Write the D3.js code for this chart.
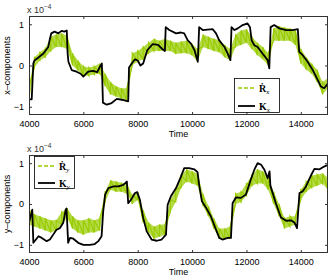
<!DOCTYPE html>
<html>
<head>
<meta charset="utf-8">
<script src="https://cdn.jsdelivr.net/npm/d3@7"></script>
<style>
  body { margin: 0; background: #fff; }
  svg text { font-family: "Liberation Sans", Arial, sans-serif; }
</style>
</head>
<body>
<svg id="chart" width="332" height="278"></svg>
<script>
// green band (estimated envelope of the noisy R-dot trace), every 200 time units
var gT = d3.range(4000, 15001, 200);
var rxLo = [-0.88,-0.05,0.12,0.2,0.35,0.45,0.45,0.4,0.0,-0.12,-0.25,-0.25,-0.22,-0.2,-0.5,-0.7,-0.75,-0.8,-0.85,0.0,0.1,0.15,0.3,0.35,0.35,0.35,0.35,0.28,0.3,0.3,0.25,0.1,0.45,0.4,0.35,0.32,0.2,0.12,0.45,0.5,0.55,0.4,0.25,0.15,0.0,0.6,0.6,0.6,0.6,0.5,0.05,-0.1,-0.2,-0.4,-0.7,-0.55];
var rxHi = [-0.5,0.2,0.32,0.42,0.7,0.75,0.78,0.72,0.3,0.12,-0.02,-0.05,-0.02,0.05,-0.2,-0.4,-0.5,-0.55,-0.55,0.3,0.35,0.45,0.55,0.65,0.6,0.65,0.6,0.55,0.58,0.6,0.52,0.4,0.75,0.7,0.65,0.62,0.5,0.4,0.75,0.85,0.88,0.7,0.55,0.45,0.3,0.9,0.95,0.92,0.9,0.85,0.4,0.2,0.05,-0.1,-0.4,-0.3];
var ryLo = [-0.5,-0.55,-0.6,-0.65,-0.7,-0.65,-0.5,-0.35,-0.6,-0.7,-0.75,-0.7,-0.7,-0.65,0.05,0.35,0.3,0.3,0.25,0.0,0.1,-0.45,-0.7,-0.85,-0.8,-0.75,-0.2,0.05,0.4,0.55,0.5,0.45,-0.05,-0.3,-0.6,-0.85,-0.85,-0.85,0.0,0.05,0.2,0.45,0.5,0.5,0.35,0.0,-0.3,-0.6,-0.55,-0.5,0.1,0.3,0.4,0.45,0.5,0.35];
var ryHi = [-0.12,-0.25,-0.3,-0.35,-0.4,-0.4,-0.2,-0.1,-0.3,-0.4,-0.4,-0.35,-0.4,-0.35,0.3,0.58,0.55,0.52,0.5,0.22,0.3,-0.15,-0.45,-0.55,-0.5,-0.5,0.1,0.35,0.7,0.85,0.8,0.75,0.25,-0.05,-0.35,-0.6,-0.6,-0.55,0.25,0.3,0.5,0.7,0.85,0.8,0.65,0.3,0.0,-0.35,-0.3,-0.3,0.35,0.55,0.7,0.72,0.75,0.65];

// black K traces
var kxT = [4000,4100,4160,4200,4300,4530,4710,4770,4820,4940,5080,5200,5300,5390,5420,5450,5570,5750,5900,6000,6100,6180,6360,6510,6610,6680,6720,6860,7040,7230,7410,7650,7680,7780,7900,8000,8100,8200,8350,8550,8750,8900,9000,9030,9160,9410,9590,9710,9840,9960,10090,10210,10260,10390,10570,10760,10880,11000,11190,11310,11410,11450,11560,11680,11860,12040,12130,12190,12290,12410,12590,12780,12840,12890,13020,13210,13460,13700,13890,13940,14070,14250,14440,14620,14740,14860,15000];
var kxV = [-0.82,-0.82,0.05,0.12,0.17,0.29,0.45,0.65,0.78,0.82,0.78,0.84,0.82,0.85,0.3,0.09,-0.11,-0.15,-0.2,-0.27,-0.2,-0.15,-0.13,-0.16,-0.03,0.05,-0.9,-0.95,-0.91,-0.81,-0.83,-0.87,-0.05,0.05,0.15,0.12,0.0,0.05,0.37,0.52,0.5,0.4,0.35,0.93,0.86,0.78,0.8,0.78,0.61,0.53,0.37,0.09,0.93,0.86,0.87,0.88,0.78,0.61,0.45,0.29,0.13,0.93,0.86,0.9,0.98,1.02,0.93,0.61,0.49,0.45,0.29,0.13,-0.07,0.93,0.98,0.9,0.86,0.86,0.88,0.33,0.25,0.09,-0.11,-0.35,-0.51,-0.55,-0.43];
var kyT = [4000,4120,4160,4350,4470,4650,4770,4890,5010,5140,5260,5350,5380,5440,5510,5630,5810,6000,6240,6420,6550,6670,6730,6800,6920,7110,7290,7470,7600,7650,7750,7900,7980,8080,8200,8330,8510,8700,8880,9040,9100,9220,9410,9590,9710,9890,10080,10200,10260,10360,10510,10690,10880,11000,11120,11310,11430,11490,11610,11800,11980,12160,12290,12410,12540,12660,12780,12850,12880,13090,13270,13460,13640,13770,13860,13950,14070,14190,14380,14500,14690,14810,14930,15000];
var kyV = [-0.46,-0.14,-0.95,-0.79,-0.83,-0.91,-0.87,-0.75,-0.63,-0.59,-0.46,-0.14,-0.11,-0.95,-0.83,-0.85,-0.95,-1.0,-1.0,-0.98,-0.91,-0.79,-0.18,0.23,0.39,0.43,0.43,0.47,0.55,0.02,0.1,0.27,0.29,0.1,-0.34,-0.67,-0.87,-0.9,-0.87,-0.75,-0.02,0.19,0.39,0.67,0.88,0.88,0.85,0.78,0.47,0.07,-0.09,-0.3,-0.63,-0.83,-0.87,-0.83,-0.83,0.02,0.16,0.15,0.23,0.6,0.84,1.0,0.96,0.84,0.63,0.8,0.45,0.0,-0.33,-0.41,-0.4,-0.46,-0.59,0.27,0.31,0.43,0.71,0.86,0.85,0.9,0.94,0.95];

var xTicks = [4000, 6000, 8000, 10000, 12000, 14000];
var yTicks = [-1, 0, 1];

var green = "#99cc00",
    svg = d3.select("#chart");

var x = d3.scaleLinear().domain([4000, 15000]).range([29, 328]);

function panel(opt) {
    var y = d3.scaleLinear().domain([-1.2, 1.2]).range([opt.bottom, opt.top]),
        g = svg.append("g"),
        clipId = "clip" + opt.top;

    g.append("clipPath").attr("id", clipId)
      .append("rect")
        .attr("x", x.range()[0]).attr("y", opt.top)
        .attr("width", x.range()[1] - x.range()[0])
        .attr("height", opt.bottom - opt.top);

    var plot = g.append("g").attr("clip-path", "url(#" + clipId + ")");

    var band = gT.map(function(t, i) { return {t: t, lo: opt.lo[i], hi: opt.hi[i]}; });
    plot.append("path")
        .datum(band)
        .attr("fill", green)
        .attr("fill-opacity", 0.72)
        .attr("d", d3.area()
          .x(function(d) { return x(d.t); })
          .y0(function(d) { return y(d.lo); })
          .y1(function(d) { return y(d.hi); }));

    // zigzag stroke over the band to give it the noisy texture
    var zig = [];
    band.forEach(function(d) {
        zig.push([d.t, d.lo]);
        zig.push([d.t, d.hi]);
    });
    plot.append("path")
        .datum(zig)
        .attr("fill", "none")
        .attr("stroke", green)
        .attr("stroke-width", 1.2)
        .attr("d", d3.line()
          .x(function(d) { return x(d[0]); })
          .y(function(d) { return y(d[1]); }));

    var kLine = opt.kT.map(function(t, i) { return [t, opt.kV[i]]; });
    plot.append("path")
        .datum(kLine)
        .attr("fill", "none")
        .attr("stroke", "#000")
        .attr("stroke-width", 1.8)
        .attr("stroke-linejoin", "round")
        .attr("d", d3.line()
          .x(function(d) { return x(d[0]); })
          .y(function(d) { return y(d[1]); }));

    // axes, ticks pointing inward on all four sides
    var axisStyle = function(a) {
        a.select(".domain").remove();
        a.selectAll("line").attr("stroke", "#333");
        a.selectAll("text").attr("font-size", "9px").attr("fill", "#000");
    };
    g.append("g").attr("transform", "translate(0," + opt.bottom + ")")
        .call(d3.axisBottom(x).tickValues(xTicks).tickSizeInner(-3).tickSizeOuter(0).tickPadding(6).tickFormat(d3.format("d")))
        .call(axisStyle);
    g.append("g").attr("transform", "translate(0," + opt.top + ")")
        .call(d3.axisTop(x).tickValues(xTicks).tickSizeInner(-3).tickSizeOuter(0).tickFormat(""))
        .call(axisStyle);
    g.append("g").attr("transform", "translate(" + x.range()[0] + ",0)")
        .call(d3.axisLeft(y).tickValues(yTicks).tickSizeInner(-3).tickSizeOuter(0).tickPadding(5)
          .tickFormat(function(d) { return d < 0 ? "\u2212" + (-d) : d; }))
        .call(axisStyle);
    g.append("g").attr("transform", "translate(" + x.range()[1] + ",0)")
        .call(d3.axisRight(y).tickValues(yTicks).tickSizeInner(-3).tickSizeOuter(0).tickFormat(""))
        .call(axisStyle);

    g.append("rect")
        .attr("x", x.range()[0] + 0.5).attr("y", opt.top + 0.5)
        .attr("width", x.range()[1] - x.range()[0] - 1)
        .attr("height", opt.bottom - opt.top - 1)
        .attr("fill", "none").attr("stroke", "#333");

    // exponent label
    var ex = g.append("text").attr("x", 27).attr("y", opt.top - 3).attr("font-size", "9px").attr("fill", "#333");
    ex.append("tspan").text("x 10");
    ex.append("tspan").attr("font-size", "6.5px").attr("dy", -4).text("\u22124");

    g.append("text")
        .attr("transform", "translate(10," + ((opt.top + opt.bottom) / 2) + ") rotate(-90)")
        .attr("text-anchor", "middle")
        .attr("font-size", "9px")
        .text(opt.ylabel);

    g.append("text")
        .attr("x", (x.range()[0] + x.range()[1]) / 2)
        .attr("y", opt.bottom + 22)
        .attr("text-anchor", "middle")
        .attr("font-size", "9px")
        .text("Time");

    // legend
    var L = opt.legend,
        lg = g.append("g").attr("transform", "translate(" + L.x + "," + L.y + ")");
    lg.append("rect").attr("x", 0.5).attr("y", 0.5).attr("width", L.w).attr("height", L.h)
        .attr("fill", "#fff").attr("stroke", "#000").attr("stroke-width", 0.8);
    [{dash: "4,2", color: green, w: 1.5, name: "R\u0307", y: L.r1},
     {dash: null, color: "#000", w: 1.8, name: "K", y: L.r2}].forEach(function(e) {
        lg.append("line").attr("x1", 4).attr("x2", 21).attr("y1", e.y).attr("y2", e.y)
            .attr("stroke", e.color).attr("stroke-width", e.w)
            .attr("stroke-dasharray", e.dash);
        var t = lg.append("text").attr("x", 25).attr("y", e.y + 3.5)
            .style("font-family", "'Liberation Serif', 'Times New Roman', serif")
            .attr("font-size", "10px").attr("font-weight", "bold");
        t.append("tspan").text(e.name);
        t.append("tspan").attr("font-size", "7px").attr("font-weight", "normal")
            .attr("font-style", "italic").attr("dy", 2).text(opt.sub);
    });
}

panel({top: 16, bottom: 115, lo: rxLo, hi: rxHi, kT: kxT, kV: kxV,
       ylabel: "x\u2013components", sub: "x",
       legend: {x: 234, y: 78, w: 45, h: 34, r1: 10, r2: 28}});
panel({top: 155, bottom: 253, lo: ryLo, hi: ryHi, kT: kyT, kV: kyV,
       ylabel: "y\u2013components", sub: "y",
       legend: {x: 34, y: 156, w: 40, h: 32, r1: 10, r2: 27}});
</script>
</body>
</html>
